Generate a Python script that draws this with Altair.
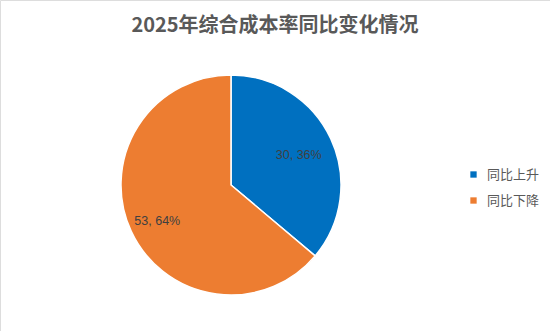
import altair as alt
import pandas as pd

categories = ["同比上升", "同比下降"]
counts = [30, 53]
pct_labels = ["30, 36%", "53, 64%"]
colors = ["#0070C0", "#ED7D31"]
title_text = "2025年综合成本率同比变化情况"

df = pd.DataFrame({"cat": categories, "count": counts, "label": pct_labels, "ord": [0, 1]})

FONT = "Noto Sans CJK SC"
cx, cy, R = 231, 185, 110

base = alt.Chart(df).encode(
    theta=alt.Theta("count:Q", stack=True),
    order=alt.Order("ord:Q"),
)

pie = base.mark_arc(stroke="white", strokeWidth=1.5).encode(
    x=alt.value(cx), y=alt.value(cy),
    radius=alt.value(R),
    color=alt.Color(
        "cat:N",
        scale=alt.Scale(domain=categories, range=colors),
        sort=categories,
        legend=alt.Legend(
            title=None, orient="none", legendX=467, legendY=168,
            symbolType="square", symbolSize=40, symbolStrokeWidth=0,
            labelFont=FONT, labelFontSize=13, labelColor="#595959",
            rowPadding=12, labelOffset=7,
        ),
    ),
)

labels = base.mark_text(font="Liberation Sans", fontSize=12.5, color="#404040", dx=-3, dy=3).encode(
    x=alt.value(cx), y=alt.value(cy),
    radius=alt.value(78),
    text="label:N",
)

title = alt.Chart(pd.DataFrame({"t": [title_text]})).mark_text(
    font=FONT, fontSize=20, fontWeight="bold", color="#595959"
).encode(x=alt.value(275), y=alt.value(26), text="t:N")

chart = alt.layer(pie, labels, title).properties(
    width=550, height=331, padding=0,
    autosize=alt.AutoSizeParams(type="none"),
).configure_view(stroke="#D9D9D9", strokeWidth=2, cornerRadius=4).configure(background="white")

chart.save("out.html", embed_options={"renderer": "svg", "actions": False})
